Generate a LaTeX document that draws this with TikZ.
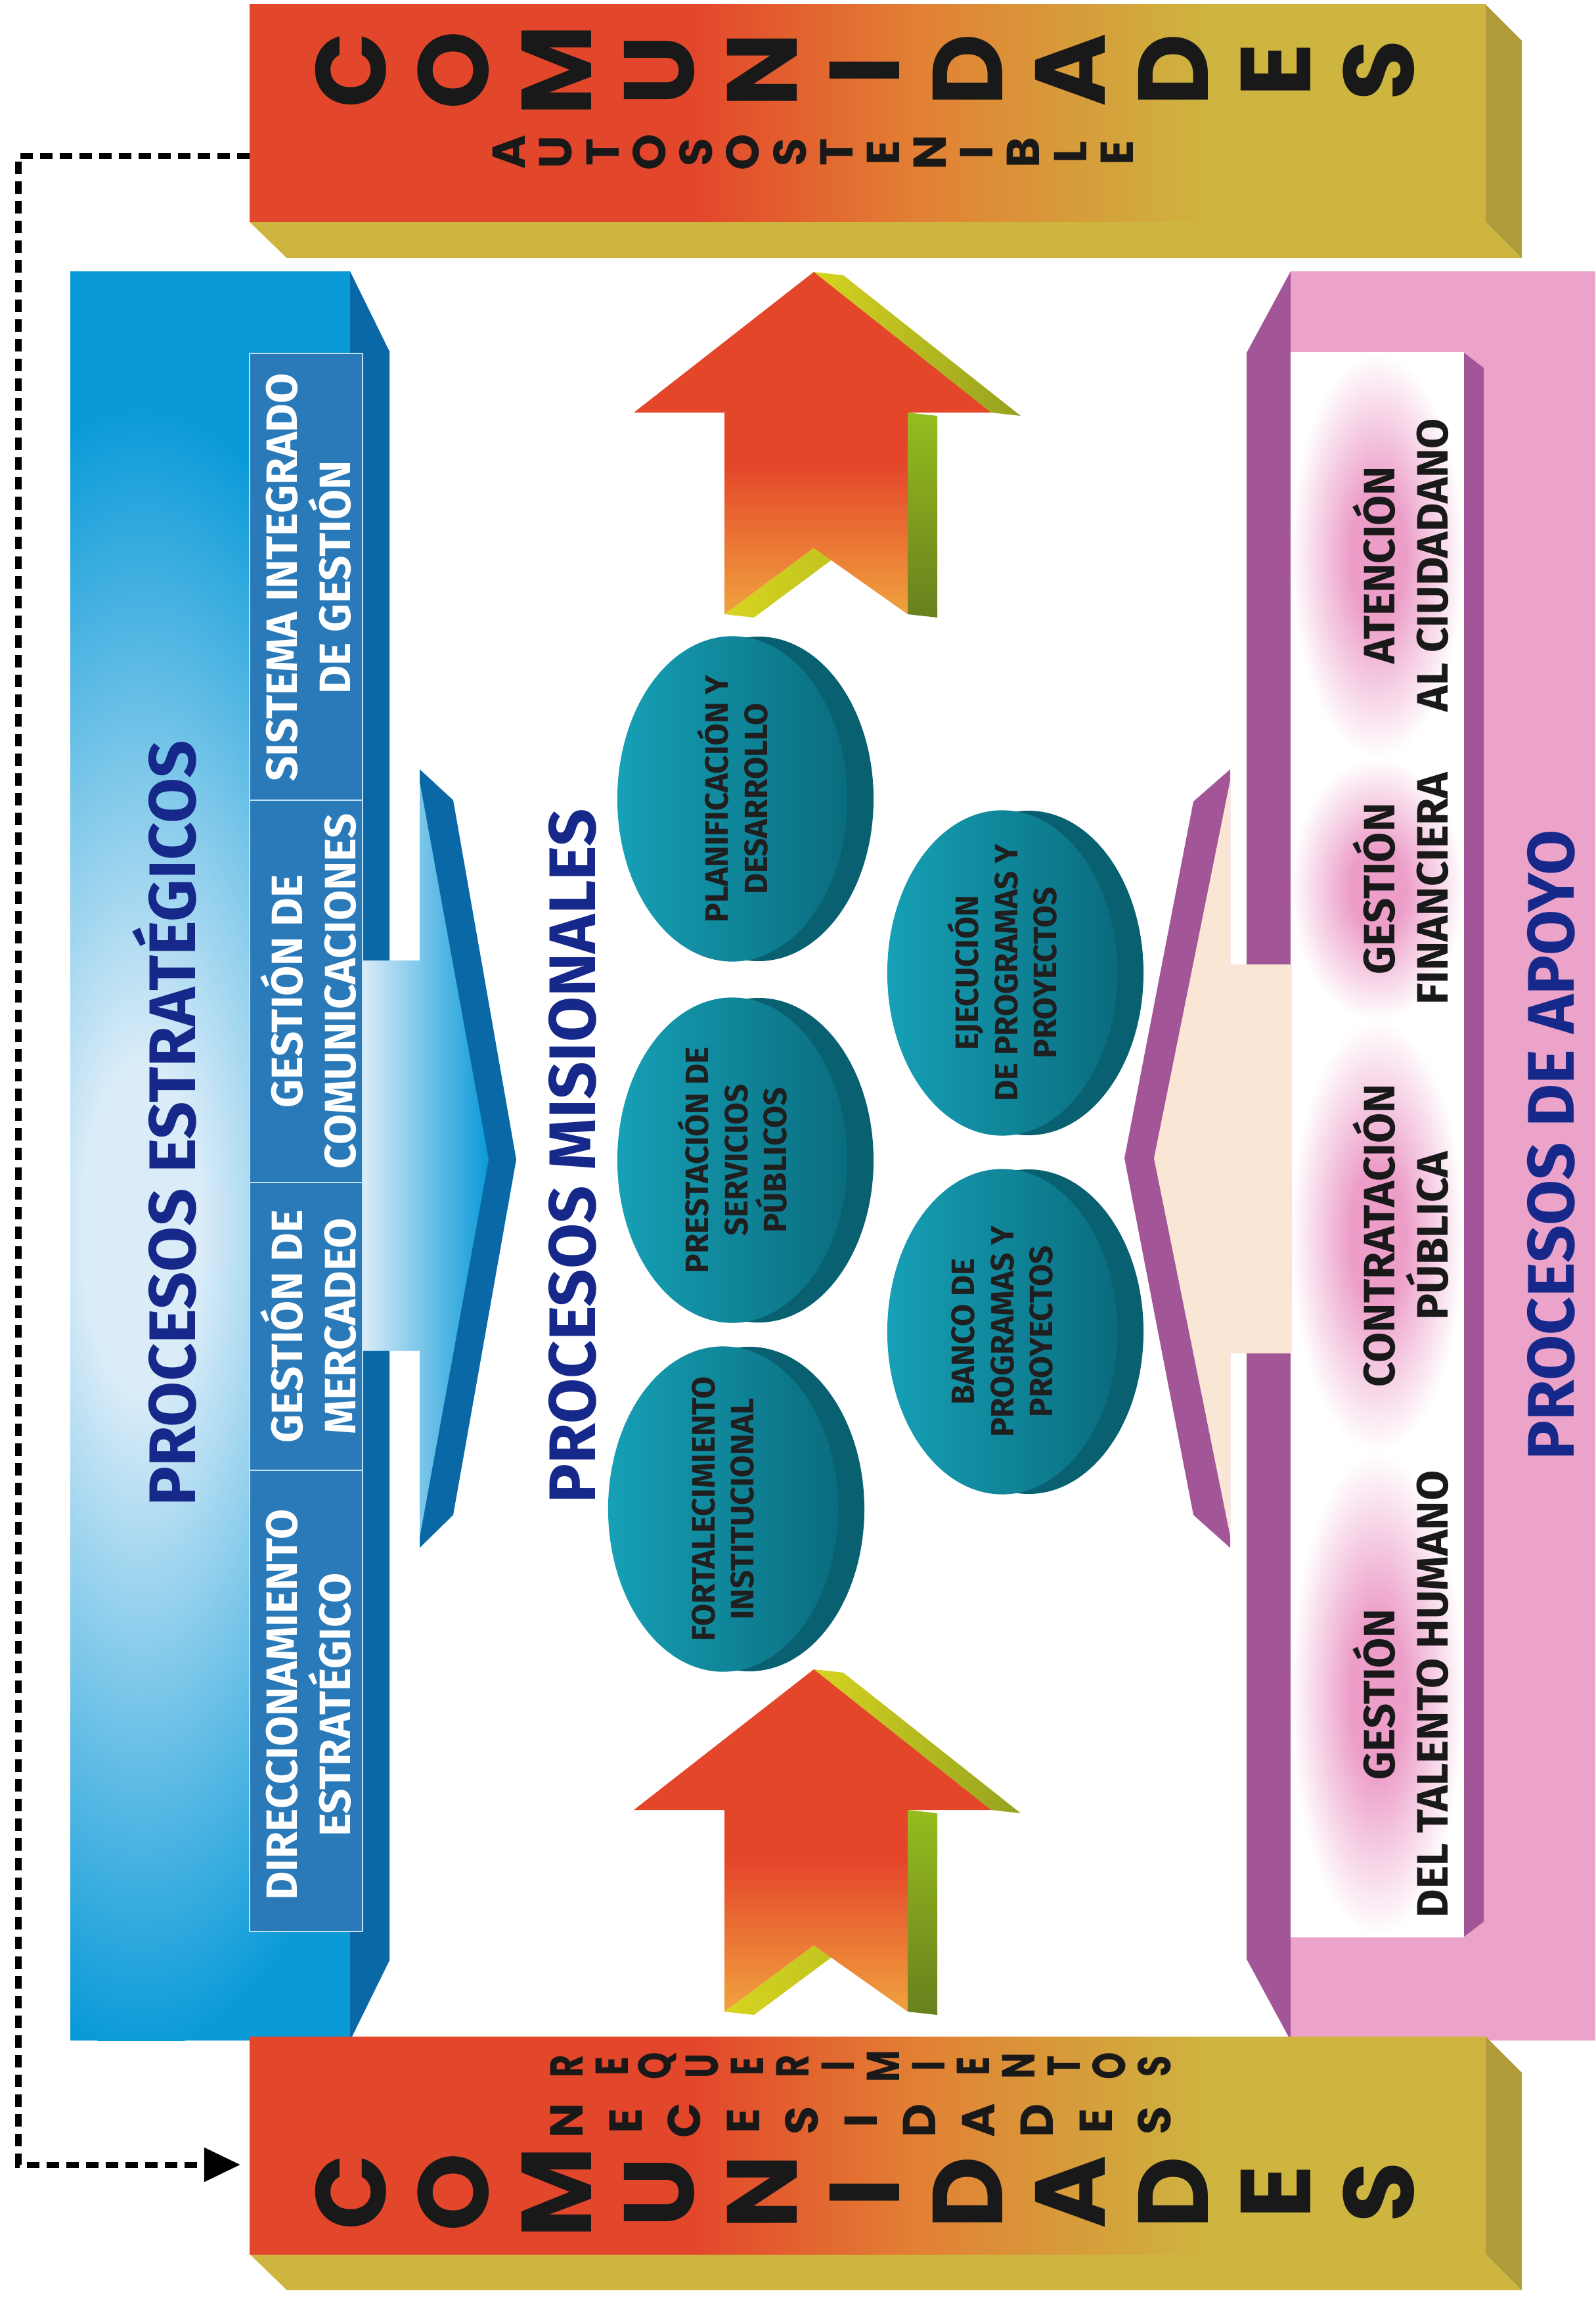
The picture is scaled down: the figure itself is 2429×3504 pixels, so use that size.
\documentclass[tikz,border=0pt]{standalone}
\usepackage{fontspec}
\setmainfont{Fira Sans}
\newfontfamily\barfont{Poppins}
\usepackage{tikz}
\usetikzlibrary{shapes.geometric,arrows.meta}

\definecolor{barred}{RGB}{227,71,43}
\definecolor{barorange}{RGB}{226,128,52}
\definecolor{barolive}{RGB}{205,181,64}
\definecolor{barside}{RGB}{176,156,58}
\definecolor{estblue}{RGB}{10,154,216}
\definecolor{estlight}{RGB}{218,236,248}
\definecolor{estdark}{RGB}{10,104,166}
\definecolor{estbox}{RGB}{42,122,185}
\definecolor{estline}{RGB}{190,225,245}
\definecolor{apopink}{RGB}{235,163,202}
\definecolor{apoviolet}{RGB}{163,86,151}
\definecolor{apocream}{RGB}{249,230,212}
\definecolor{cellpink}{RGB}{236,158,200}
\definecolor{navy}{RGB}{22,40,138}
\definecolor{bubleft}{RGB}{22,160,182}
\definecolor{bubright}{RGB}{10,108,126}
\definecolor{bubback}{RGB}{9,96,112}
\definecolor{arrred}{RGB}{228,70,42}
\definecolor{arrorange}{RGB}{240,162,62}
\definecolor{arryellow}{RGB}{214,212,32}
\definecolor{arrgreen}{RGB}{150,188,30}
\definecolor{arrolive}{RGB}{104,128,30}

\pgfdeclarehorizontalshading{barshade}{100bp}{color(0bp)=(barred); color(43bp)=(barred); color(52bp)=(barorange); color(64bp)=(barolive); color(100bp)=(barolive)}
\pgfdeclareverticalshading{arrshade}{100bp}{color(0bp)=(arrorange); color(25bp)=(arrorange); color(47bp)=(arrred); color(100bp)=(arrred)}
\pgfdeclareradialshading{cellshade}{\pgfpoint{0bp}{0bp}}{color(0bp)=(cellpink); color(8bp)=(cellpink); color(25bp)=(white); color(50bp)=(white)}
\pgfdeclareradialshading{glowshade}{\pgfpoint{0bp}{0bp}}{color(0bp)=(estlight); color(5bp)=(estlight); color(25bp)=(estblue); color(50bp)=(estblue)}

\begin{document}
\begin{tikzpicture}
  [x=0.01cm,y=-0.01cm,
  bigletter/.style={rotate=90,inner sep=0,text=black!90,font=\barfont\bfseries\fontsize{43}{43}\selectfont},
  smallletter/.style={rotate=90,inner sep=0,text=black!90,font=\barfont\bfseries\fontsize{20}{20}\selectfont},
  title/.style={rotate=90,inner sep=0,text=navy,font=\bfseries\fontsize{28.5}{34}\selectfont},
  esttext/.style={rotate=90,align=center,text=white,font=\bfseries\fontsize{19}{23}\selectfont},
  apotext/.style={rotate=90,align=center,text=black!90,font=\bfseries\fontsize{19}{23}\selectfont},
  bubble/.style={ellipse,minimum width=3.5cm,minimum height=4.95cm,inner sep=0,left color=bubleft,right color=bubright},
  bubtext/.style={rotate=90,align=center,text=black!88,font=\bfseries\fontsize{14}{17}\selectfont},
  dashlink/.style={line width=0.9mm,dash pattern=on 1.9mm off 1.1mm,-{Triangle[length=5.5mm,width=5mm]}}]

  \useasboundingbox (0,0) rectangle (2429,3504);

  % procesos estrategicos
  \fill[estblue] (107,413) rectangle (533,3106);
  \begin{scope}
    \clip (107,413) rectangle (533,3106);
    \shade[shading=glowshade] (215,1870) ellipse [x radius=450,y radius=1250];
  \end{scope}
  \fill[estdark] (533,413) -- (593,535) -- (593,2984) -- (533,3106) -- cycle;
  \filldraw[fill=estbox,draw=estline,line width=0.8pt] (380,538) rectangle (552,2940);
  \foreach \y in {1218,1800,2238}
    \draw[estline,line width=0.8pt] (380,\y) -- (552,\y);
  \fill[estdark] (639,1171) -- (690,1218) -- (786,1765) -- (690,2306) -- (639,2356) -- cycle;
  \shade[left color=estlight,right color=estblue] (552,1462) -- (639,1462) -- (639,1190) -- (744,1765)
    -- (639,2340) -- (639,2056) -- (552,2056) -- cycle;

  % procesos de apoyo
  \fill[apopink] (1965,413) rectangle (2429,3106);
  \fill[apoviolet] (1965,413) -- (1898,537) -- (1898,2982) -- (1965,3106) -- cycle;
  \fill[white] (1965,537) rectangle (2229,2948);
  \foreach \a/\b in {537/1154,1154/1553,1553/2210,2210/2948}
    \shade[shading=cellshade] (1965,\a) rectangle (2229,\b);
  \fill[apoviolet] (2229,537) -- (2259,560) -- (2259,2925) -- (2229,2948) -- cycle;
  \fill[apoviolet] (1873,1171) -- (1817,1220) -- (1712,1763) -- (1817,2306) -- (1873,2356) -- cycle;
  \fill[apocream] (1967,1468) -- (1873,1468) -- (1873,1188) -- (1757,1763)
    -- (1873,2338) -- (1873,2060) -- (1967,2060) -- cycle;

  % flechas
  \foreach \dy in {0,2127}{
  \begin{scope}[shift={(0,\dy)}]
    \shade[left color=arryellow,right color=arrolive!60!arryellow] (1239,414) -- (1284,419) -- (1554,633) -- (1509,628) -- cycle;
    \shade[top color=arrgreen,bottom color=arrolive] (1382,628) -- (1427,633) -- (1427,940) -- (1382,935) -- cycle;
    \shade[left color=arryellow,right color=arryellow!80!arrolive] (1103,935) -- (1239,834) -- (1284,839) -- (1148,940) -- cycle;
    \shade[shading=arrshade] (1239,414) -- (1509,628) -- (1382,628) -- (1382,935) -- (1239,834)
      -- (1103,935) -- (1103,628) -- (965,628) -- cycle;
  \end{scope}}

  % misionales
  \foreach \n/\x/\y in {b1/1115/1216,b2/1115/1766,b3/1101/2297,b4/1526/1481,b5/1526/2027}{
    \fill[bubback] (\x+40,\y) ellipse [x radius=175,y radius=247];
    \node[bubble] (\n) at (\x,\y) {};}
  \node[bubtext] (t1) at (b1) {PLANIFICACIÓN Y\\DESARROLLO};
  \node[bubtext] (t2) at (b2) {PRESTACIÓN DE\\SERVICIOS\\PÚBLICOS};
  \node[bubtext] (t3) at (b3) {FORTALECIMIENTO\\INSTITUCIONAL};
  \node[bubtext] (t4) at (b4) {EJECUCIÓN\\DE PROGRAMAS Y\\PROYECTOS};
  \node[bubtext] (t5) at (b5) {BANCO DE\\PROGRAMAS Y\\PROYECTOS};

  \node[title] (est) at (250,1710) {PROCESOS ESTRATÉGICOS};
  \node[title] (mis) at (872,1760) {PROCESOS MISIONALES};
  \node[title] (apo) at (2362,1743) {PROCESOS DE APOYO};

  \node[esttext] (s1) at (470,879) {SISTEMA INTEGRADO\\DE GESTIÓN};
  \node[esttext] (s2) at (470,1509) {GESTIÓN DE\\COMUNICACIONES};
  \node[esttext] (s3) at (470,2019) {GESTIÓN DE\\MERCADEO};
  \node[esttext] (s4) at (470,2595) {DIRECCIONAMIENTO\\ESTRATÉGICO};

  \node[apotext] (p1) at (2133,860) {ATENCIÓN\\AL CIUDADANO};
  \node[apotext] (p2) at (2133,1353) {GESTIÓN\\FINANCIERA};
  \node[apotext] (p3) at (2133,1881) {CONTRATACIÓN\\PÚBLICA};
  \node[apotext] (p4) at (2133,2579) {GESTIÓN\\DEL TALENTO HUMANO};

  % comunidades
  \foreach \y in {7,3100}{
    \fill[barolive] (380,\y+331) -- (2262,\y+331) -- (2317,\y+386) -- (437,\y+386) -- cycle;
    \fill[barside] (2262,\y) -- (2317,\y+55) -- (2317,\y+386) -- (2262,\y+331) -- cycle;
    \shade[shading=barshade] (380,\y) rectangle (2262,\y+331);}
  \foreach \l [count=\i] in {C,O,M,U,N,I,D,A,D,E,S}{
    \node[bigletter] (ct\i) at ({534+156.5*(\i-1)},107) {\l};
    \node[bigletter] (cb\i) at ({534+156.5*(\i-1)},3337) {\l};}
  \foreach \l [count=\i] in {A,U,T,O,S,O,S,T,E,N,I,B,L,E}
    \node[smallletter] (a\i) at ({775+71.2*(\i-1)},232) {\l};
  \foreach \l [count=\i] in {R,E,Q,U,E,R,I,M,I,E,N,T,O,S}
    \node[smallletter,xscale=0.75] (r\i) at ({863+68.8*(\i-1)},3145) {\l};
  \foreach \l [count=\i] in {N,E,C,E,S,I,D,A,D,E,S}
    \node[smallletter] (n\i) at ({863+89.5*(\i-1)},3228) {\l};

  \coordinate (src) at (380,238);
  \coordinate (bend) at (28,3295);
  \coordinate (dst) at (366,3295);
  \draw[dashlink] (src) -| (bend) -- (dst);

\end{tikzpicture}
\end{document}
